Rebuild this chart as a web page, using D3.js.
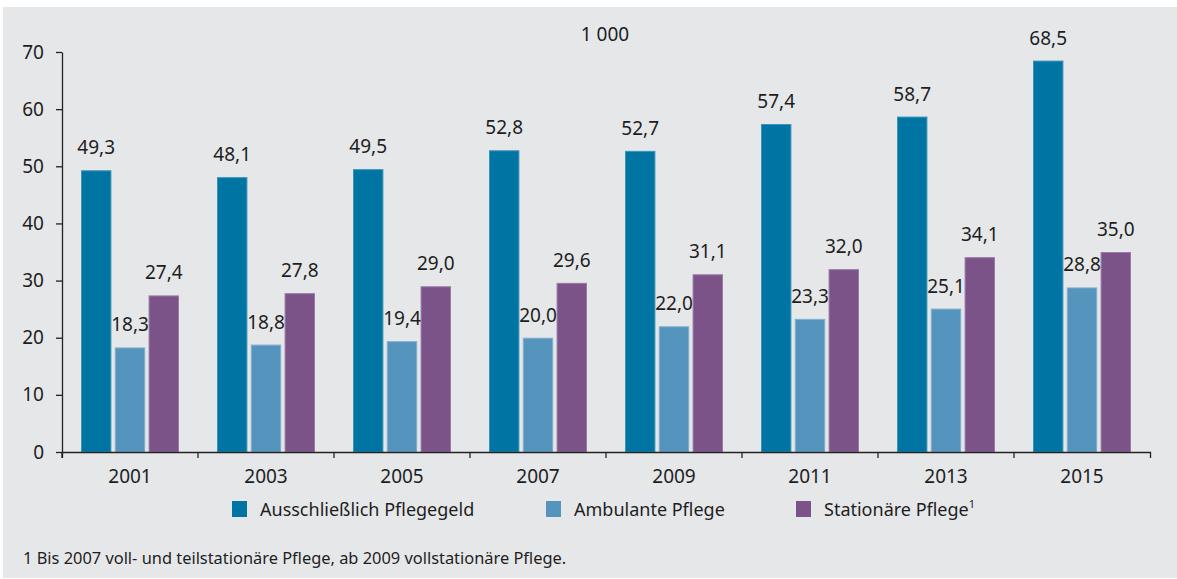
<!DOCTYPE html>
<html>
<head>
<meta charset="utf-8">
<script src="https://cdn.jsdelivr.net/npm/d3@7"></script>
<style>
  body { margin: 0; background: #fff; }
  svg text { font-family: "Noto Sans", "Open Sans", sans-serif; fill: #1e1e1e; }
  .axis path, .axis line { stroke: #222; stroke-width: 1.3; }
</style>
</head>
<body>
<div id="chart"></div>
<script>
// data (Tausend)
var years = ["2001", "2003", "2005", "2007", "2009", "2011", "2013", "2015"];
var series = ["Ausschließlich Pflegegeld", "Ambulante Pflege", "Stationäre Pflege"];
var pflegegeld = [49.3, 48.1, 49.5, 52.8, 52.7, 57.4, 58.7, 68.5];
var ambulant = [18.3, 18.8, 19.4, 20.0, 22.0, 23.3, 25.1, 28.8];
var stationaer = [27.4, 27.8, 29.0, 29.6, 31.1, 32.0, 34.1, 35.0];
var yTicks = [0, 10, 20, 30, 40, 50, 60, 70];
var unitLabel = "1 000";
var footnote = "1 Bis 2007 voll- und teilstationäre Pflege, ab 2009 vollstationäre Pflege.";

var colors = ["#0075a3", "#5594bd", "#7b5389"];
var strokes = ["#3a94bd", "#7fb0d2", "#9a7aa6"];

var W = 1177, H = 579;
// plot area (note: "top" is taken by window.top)
var plotLeft = 62, plotRight = 1150, plotTop = 52, plotBottom = 452;

var svg = d3.select("#chart").append("svg")
  .attr("width", W).attr("height", H);

// grey panel
svg.append("rect")
  .attr("x", 3).attr("y", 7)
  .attr("width", W - 3).attr("height", 571)
  .attr("fill", "#e6e7e9");

var x0 = d3.scaleBand().domain(years).range([plotLeft, plotRight]);
var x1 = d3.scaleBand().domain(series).range([19, x0.bandwidth() - 19]).paddingInner(0.1);
var y = d3.scaleLinear().domain([0, 70]).range([plotBottom, plotTop]);

var rows = years.map(function (yr, i) {
  return { year: yr, values: [pflegegeld[i], ambulant[i], stationaer[i]] };
});

var groups = svg.selectAll(".grp")
  .data(rows)
  .enter().append("g")
  .attr("class", "grp")
  .attr("transform", function (d) { return "translate(" + x0(d.year) + ",0)"; });

var cells = groups.selectAll(".cell")
  .data(function (d) {
    return d.values.map(function (v, j) { return { s: series[j], v: v, j: j }; });
  })
  .enter();

cells.append("rect")
  .attr("x", function (d) { return x1(d.s) + 0.5; })
  .attr("y", function (d) { return y(d.v) + 0.5; })
  .attr("width", x1.bandwidth() - 1)
  .attr("height", function (d) { return plotBottom - y(d.v) - 0.5; })
  .attr("fill", function (d) { return colors[d.j]; })
  .attr("stroke", function (d) { return strokes[d.j]; })
  .attr("stroke-width", 1);

cells.append("text")
  .attr("x", function (d) { return x1(d.s) + x1.bandwidth() / 2; })
  .attr("y", function (d) { return y(d.v) - 16; })
  .attr("text-anchor", "middle")
  .style("font-size", "19px")
  .text(function (d) { return d.v.toFixed(1).replace(".", ","); });

// y axis
svg.append("g")
  .attr("class", "axis")
  .attr("transform", "translate(" + plotLeft + ",0)")
  .call(d3.axisLeft(y).tickValues(yTicks).tickSize(6).tickSizeOuter(0).tickPadding(12))
  .call(function (g) { g.selectAll("text").style("font-size", "19px").attr("fill", "#1e1e1e"); });

// x axis, ticks between the groups
var xAxis = svg.append("g")
  .attr("class", "axis")
  .attr("transform", "translate(0," + plotBottom + ")")
  .call(d3.axisBottom(x0).tickSize(6).tickSizeOuter(6).tickPadding(12));
xAxis.selectAll("text").style("font-size", "19px").attr("fill", "#1e1e1e");
xAxis.selectAll(".tick line")
  .attr("x1", -x0.bandwidth() / 2)
  .attr("x2", -x0.bandwidth() / 2);

// unit
svg.append("text")
  .attr("x", 605).attr("y", 41)
  .attr("text-anchor", "middle")
  .style("font-size", "19px")
  .text(unitLabel);

// legend
var legendX = [232, 546, 796];
var legend = svg.selectAll(".leg")
  .data(series)
  .enter().append("g")
  .attr("class", "leg")
  .attr("transform", function (d, i) { return "translate(" + legendX[i] + ",501)"; });

legend.append("rect")
  .attr("width", 15).attr("height", 16)
  .attr("fill", function (d, i) { return colors[i]; });

var lt = legend.append("text")
  .attr("x", 28).attr("y", 15)
  .style("font-size", "18px")
  .text(function (d) { return d; });
lt.filter(function (d, i) { return i === 2; })
  .append("tspan")
  .attr("dy", -8)
  .style("font-size", "11px")
  .text("1");

// footnote
svg.append("text")
  .attr("x", 23).attr("y", 564)
  .style("font-size", "16.4px")
  .text(footnote);
</script>
</body>
</html>
